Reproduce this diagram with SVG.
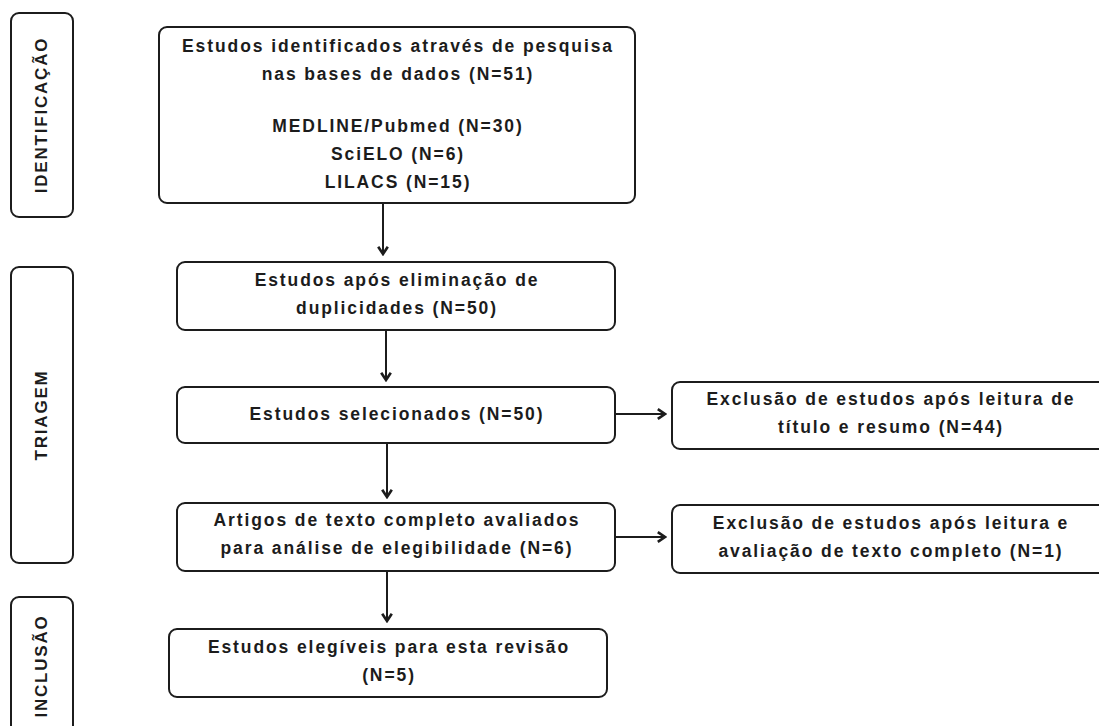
<svg xmlns="http://www.w3.org/2000/svg" width="1099" height="726" viewBox="0 0 1099 726">
<style>
.box{fill:#fff;stroke:#1c1c1c;stroke-width:2}
.t{font-family:"Liberation Sans",Arial,sans-serif;font-weight:bold;font-size:17.5px;letter-spacing:1.9px;fill:#1c1c1c;text-anchor:middle}
.side{font-family:"Liberation Sans",Arial,sans-serif;font-weight:bold;font-size:17px;letter-spacing:1.8px;fill:#1c1c1c;text-anchor:middle}
.c{stroke:#1c1c1c;stroke-width:2;fill:none}
</style>
<defs>
<marker id="ah" markerUnits="userSpaceOnUse" markerWidth="12" markerHeight="12" refX="8" refY="5" orient="auto" viewBox="0 0 10 10">
<polyline points="2,1 8,5 2,9" fill="none" stroke="#1c1c1c" stroke-width="2.2" stroke-linejoin="miter"/>
</marker>
</defs>
<rect width="1099" height="726" fill="#fff"/>
<g id="phase-identificacao">
<rect class="box" x="11" y="13" width="62" height="204" rx="8"/>
<text class="side" transform="translate(47,115) rotate(-90)">IDENTIFICAÇÃO</text>
</g>
<g id="phase-triagem">
<rect class="box" x="11" y="267" width="62" height="296" rx="8"/>
<text class="side" transform="translate(47,415) rotate(-90)">TRIAGEM</text>
</g>
<g id="phase-inclusao">
<rect class="box" x="11" y="597" width="62" height="150" rx="8"/>
<text class="side" transform="translate(47,666) rotate(-90)">INCLUSÃO</text>
</g>
<g id="connectors">
<line class="c" x1="383" y1="203" x2="383" y2="254" marker-end="url(#ah)"/>
<line class="c" x1="386" y1="330" x2="386" y2="380" marker-end="url(#ah)"/>
<line class="c" x1="387" y1="443" x2="387" y2="497" marker-end="url(#ah)"/>
<line class="c" x1="387" y1="571" x2="387" y2="621" marker-end="url(#ah)"/>
<line class="c" x1="615" y1="414" x2="665" y2="414" marker-end="url(#ah)"/>
<line class="c" x1="615" y1="537" x2="665" y2="537" marker-end="url(#ah)"/>
</g>
<g id="n-identificados">
<rect class="box" x="159" y="27" width="476" height="176" rx="8"/>
<text class="t" x="398" y="52">Estudos identificados através de pesquisa</text>
<text class="t" x="398" y="80">nas bases de dados (N=51)</text>
<text class="t" x="398" y="132">MEDLINE/Pubmed (N=30)</text>
<text class="t" x="398" y="160">SciELO (N=6)</text>
<text class="t" x="398" y="188">LILACS (N=15)</text>
</g>
<g id="n-duplicidades">
<rect class="box" x="177" y="262" width="438" height="68" rx="8"/>
<text class="t" x="397" y="286">Estudos após eliminação de</text>
<text class="t" x="397" y="314">duplicidades (N=50)</text>
</g>
<g id="n-selecionados">
<rect class="box" x="177" y="387" width="438" height="56" rx="8"/>
<text class="t" x="397" y="420">Estudos selecionados (N=50)</text>
</g>
<g id="n-artigos">
<rect class="box" x="177" y="503" width="438" height="68" rx="8"/>
<text class="t" x="397" y="526">Artigos de texto completo avaliados</text>
<text class="t" x="397" y="554">para análise de elegibilidade (N=6)</text>
</g>
<g id="n-elegiveis">
<rect class="box" x="169" y="629" width="438" height="68" rx="8"/>
<text class="t" x="389" y="653">Estudos elegíveis para esta revisão</text>
<text class="t" x="389" y="681">(N=5)</text>
</g>
<g id="n-exclusao-titulo">
<rect class="box" x="672" y="382" width="436" height="67" rx="8"/>
<text class="t" x="891" y="405">Exclusão de estudos após leitura de</text>
<text class="t" x="891" y="433">título e resumo (N=44)</text>
</g>
<g id="n-exclusao-texto">
<rect class="box" x="672" y="505" width="436" height="68" rx="8"/>
<text class="t" x="891" y="529">Exclusão de estudos após leitura e</text>
<text class="t" x="891" y="557">avaliação de texto completo (N=1)</text>
</g>
</svg>
